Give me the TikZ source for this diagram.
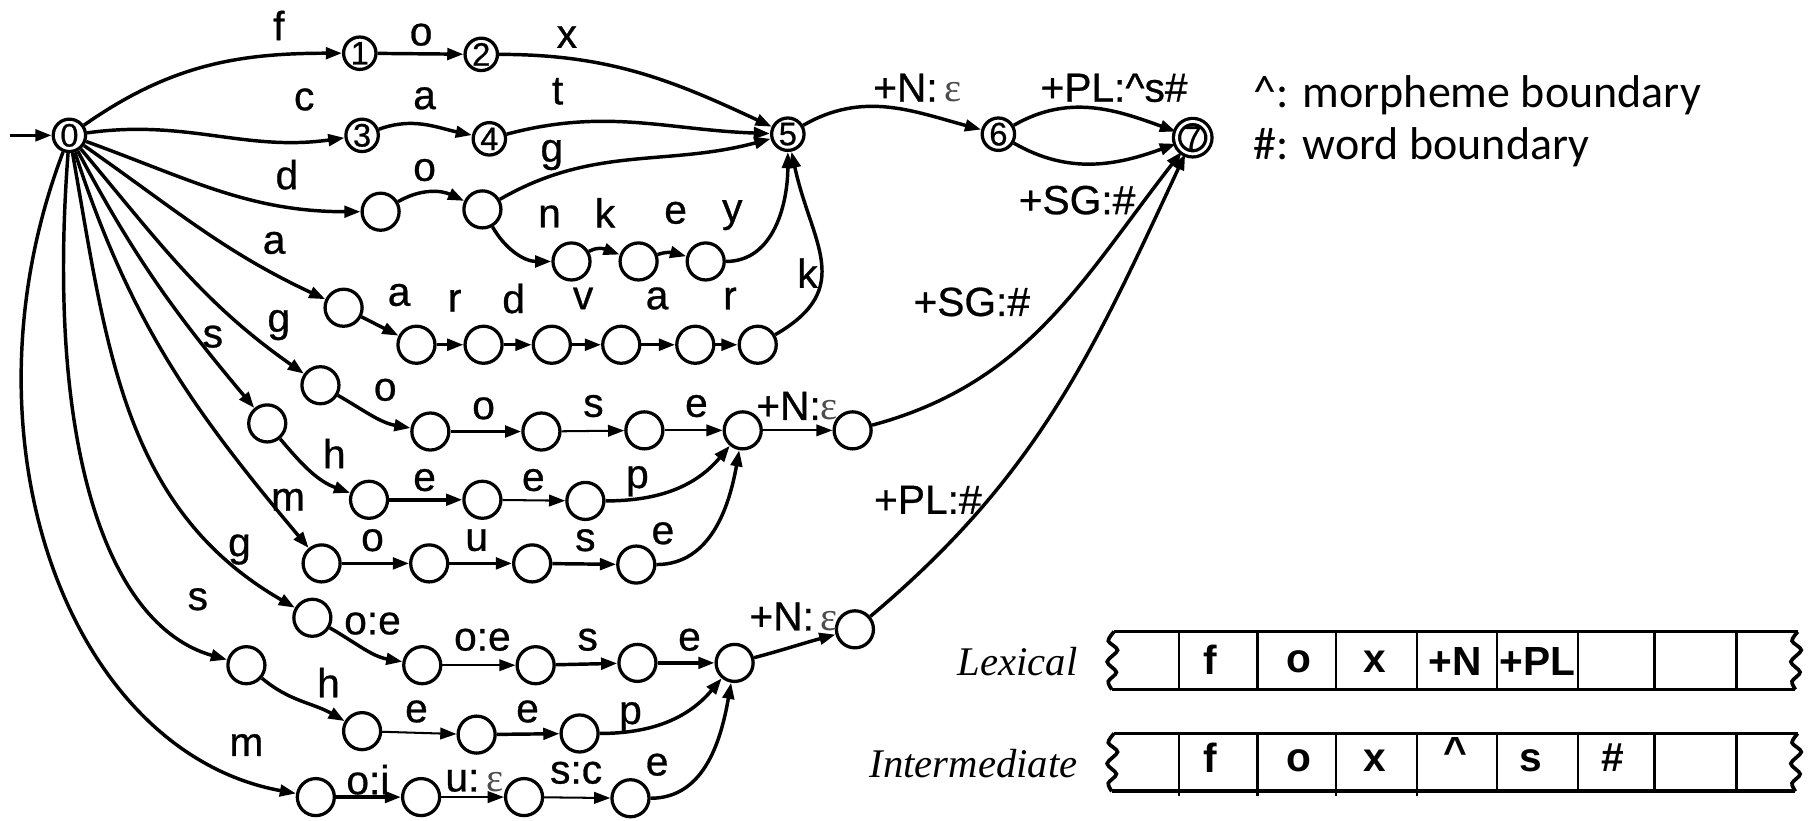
\documentclass[tikz,border=0pt]{standalone}
\usepackage{fontspec}
\setmainfont{Liberation Sans}
\newfontfamily\lblfont[FakeBold=0.7]{Liberation Sans}
\newfontfamily\serifit{Liberation Serif}
\newfontfamily\legendfont{Carlito}
\usetikzlibrary{arrows.meta}
\newcommand{\myeps}{{\serifit\color{black!70}ε}}
\begin{document}
\begin{tikzpicture}[x=0.01cm,y=0.01cm,
  st/.style={circle,draw,line width=0.8pt,minimum size=0.32cm,inner sep=0pt},
  nst/.style={st,minimum size=0.28cm,font=\lblfont\fontsize{8}{8}\selectfont},
  tr/.style={line width=0.85pt,-{Triangle[length=1.4mm,width=1.0mm]}},
  thin tr/.style={tr,line width=0.5pt},
  lb/.style={font=\lblfont\fontsize{10}{10}\selectfont,inner sep=0pt},
  tape/.style={line width=0.9pt},
  cellt/.style={font=\fontsize{10}{10}\selectfont\bfseries,inner sep=0pt},
  tapename/.style={font=\serifit\itshape\fontsize{10}{10}\selectfont,anchor=east,inner sep=0pt},
  legend/.style={font=\legendfont\fontsize{11.3}{11.3}\selectfont,anchor=west,inner sep=0pt}
]
\useasboundingbox (0,0) rectangle (1568,-709);
% numbered states
\node[nst] (N0) at (60,-117) {0};
\node[nst] (N1) at (311,-46) {1};
\node[nst] (N2) at (416,-47) {2};
\node[nst] (N3) at (313,-117) {3};
\node[nst] (N4) at (423,-120) {4};
\node[nst] (N5) at (681,-116) {5};
\node[nst] (N6) at (863,-116) {6};
\node[nst,double,double distance=0.7pt] (N7) at (1031,-119) {7};
% dog / donkey
\node[st] (D1) at (329,-183) {};
\node[st] (D2) at (417,-181) {};
\node[st] (K1) at (494,-226) {};
\node[st] (K2) at (552,-226) {};
\node[st] (K3) at (610,-226) {};
% aardvark
\node[st] (A0) at (297,-266) {};
\node[st] (A1) at (360,-298) {};
\node[st] (A2) at (418,-298) {};
\node[st] (A3) at (477,-298) {};
\node[st] (A4) at (537,-298) {};
\node[st] (A5) at (601,-298) {};
\node[st] (A6) at (655,-298) {};
% goose
\node[st] (G0) at (277,-333) {};
\node[st] (G1) at (372,-373) {};
\node[st] (G2) at (468,-373) {};
\node[st] (G3) at (557,-372) {};
\node[st] (M1) at (642,-372) {};
\node[st] (P1) at (737,-372) {};
% sheep
\node[st] (S0) at (231,-366) {};
\node[st] (S1) at (319,-432) {};
\node[st] (S2) at (417,-432) {};
\node[st] (S3) at (506,-433) {};
% mouse
\node[st] (U0) at (278,-487) {};
\node[st] (U1) at (371,-487) {};
\node[st] (U2) at (460,-487) {};
\node[st] (U3) at (550,-488) {};
% geese
\node[st] (E0) at (270,-534) {};
\node[st] (E1) at (365,-575) {};
\node[st] (E2) at (463,-575) {};
\node[st] (E3) at (551,-573) {};
\node[st] (M2) at (635,-573) {};
\node[st] (P2) at (739,-544) {};
% sheep (2)
\node[st] (T0) at (213,-575) {};
\node[st] (T1) at (313,-632) {};
\node[st] (T2) at (412,-635) {};
\node[st] (T3) at (501,-634) {};
% mice
\node[st] (I0) at (273,-689) {};
\node[st] (I1) at (364,-689) {};
\node[st] (I2) at (453,-689) {};
\node[st] (I3) at (545,-690) {};

\coordinate (start) at (9,-117);
\draw[tr] (start) -- (N0);

% fox / cat / dog / donkey
\draw[tr] (N0) to[out=35,in=180] (N1);
\draw[tr] (N1) -- (N2);
\draw[tr] (N2) to[out=0,in=155] (N5);
\draw[tr] (N0) to[out=8,in=188] (N3);
\draw[tr] (N3) to[out=20,in=168] (N4);
\draw[tr] (N4) to[out=15,in=178] (N5);
\draw[tr] (N0) to[out=-20,in=180] (D1);
\draw[tr] (D1) to[out=30,in=155] (D2);
\draw[tr] (D2) to[out=30,in=195] (N5);
\draw[tr] (D2) to[out=-60,in=180] (K1);
\draw[tr] (K1) to[out=30,in=160] (K2);
\draw[tr] (K2) to[out=20,in=165] (K3);
\draw[tr] (K3) to[out=0,in=-90] (N5);
% aardvark
\draw[tr] (N0) to[out=-35,in=155] (A0);
\draw[tr] (A0) -- (A1);
\draw[tr] (A1) -- (A2);
\draw[tr] (A2) -- (A3);
\draw[tr] (A3) -- (A4);
\draw[tr] (A4) -- (A5);
\draw[tr] (A5) -- (A6);
\draw[tr] (A6) to[out=30,in=-78,looseness=1.3] (N5);
% goose
\draw[tr] (N0) to[out=-50,in=145] (G0);
\draw[tr] (G0) to[out=-30,in=170] (G1);
\draw[tr] (G1) -- (G2);
\draw[thin tr] (G2) -- (G3);
\draw[thin tr] (G3) -- (M1);
\draw[thin tr] (M1) -- (P1);
\draw[tr] (P1) to[out=15,in=-128] (N7);
% sheep
\draw[tr] (N0) to[out=-62,in=130] (S0);
\draw[tr] (S0) to[out=-50,in=160] (S1);
\draw[tr] (S1) -- (S2);
\draw[thin tr] (S2) -- (S3);
\draw[tr] (S3) to[out=0,in=-130] (M1);
% mouse
\draw[tr] (N0) to[out=-72,in=130] (U0);
\draw[tr] (U0) -- (U1);
\draw[tr] (U1) -- (U2);
\draw[tr] (U2) -- (U3);
\draw[tr] (U3) to[out=0,in=-100] (M1);
% geese
\draw[tr] (N0) to[out=-80,in=150] (E0);
\draw[tr] (E0) to[out=-30,in=170] (E1);
\draw[thin tr] (E1) -- (E2);
\draw[tr] (E2) -- (E3);
\draw[tr] (E3) -- (M2);
\draw[tr] (M2) to[out=15,in=195] (P2);
\draw[tr] (P2) to[out=40,in=-115] (N7);
% sheep (2)
\draw[tr] (N0) .. controls (40,-380) and (90,-540) .. (T0);
\draw[tr] (T0) to[out=-40,in=150] (T1);
\draw[thin tr] (T1) -- (T2);
\draw[tr] (T2) -- (T3);
\draw[tr] (T3) to[out=0,in=-130] (M2);
% mice
\draw[tr] (N0) .. controls (-40,-380) and (60,-650) .. (I0);
\draw[tr] (I0) -- (I1);
\draw[thin tr] (I1) -- (I2);
\draw[thin tr] (I2) -- (I3);
\draw[tr] (I3) to[out=0,in=-100] (M2);
% suffix part
\draw[tr] (N5) to[out=30,in=165] (N6);
\draw[tr] (N6) to[out=30,in=160] (N7);
\draw[tr] (N6) to[out=-30,in=200] (N7);

% labels
\node[lb] (l01) at (241,-22) {f};
\node[lb] (l12) at (364,-30) {o};
\node[lb] (l25) at (490,-32) {x};
\node[lb] (l03) at (263,-86) {c};
\node[lb] (l34) at (367,-85) {a};
\node[lb] (l45) at (482,-79) {t};
\node[lb] (l0d) at (248,-151) {d};
\node[lb] (ldd) at (367,-147) {o};
\node[lb] (ld5) at (477,-134) {g};
\node[lb] (lk1) at (475,-187) {n};
\node[lb] (lk2) at (523,-184) {k};
\node[lb] (lk3) at (584,-184) {e};
\node[lb] (lk4) at (633,-186) {y};
\node[lb] (la0) at (237,-210) {a};
\node[lb] (la1) at (345,-255) {a};
\node[lb] (la2) at (393,-260) {r};
\node[lb] (la3) at (444,-258) {d};
\node[lb] (la4) at (504,-258) {v};
\node[lb] (la5) at (568,-258) {a};
\node[lb] (la6) at (631,-258) {r};
\node[lb] (la7) at (698,-236) {k};
\node[lb] (lg0) at (241,-281) {g};
\node[lb] (lg1) at (333,-337) {o};
\node[lb] (lg2) at (418,-353) {o};
\node[lb] (lg3) at (513,-351) {s};
\node[lb] (lg4) at (602,-351) {e};
\node[lb] (lg5) at (689,-351) {+N:\myeps};
\node[lb] (l56) at (793,-76) {+N:\,\myeps};
\node[lb] (l67) at (963,-76) {+PL:\textasciicircum s\#};
\node[lb] (l67b) at (931,-173) {+SG:\#};
\node[lb] (lp1) at (840,-261) {+SG:\#};
\node[lb] (lp2) at (802,-432) {+PL:\#};
\node[lb] (ls0) at (184,-291) {s};
\node[lb] (ls1) at (289,-392) {h};
\node[lb] (ls2) at (367,-415) {e};
\node[lb] (ls3) at (461,-415) {e};
\node[lb] (ls4) at (551,-416) {p};
\node[lb] (lu0) at (249,-432) {m};
\node[lb] (lu1) at (322,-467) {o};
\node[lb] (lu2) at (412,-467) {u};
\node[lb] (lu3) at (506,-467) {s};
\node[lb] (lu4) at (573,-461) {e};
\node[lb] (le0) at (207,-475) {g};
\node[lb] (le1) at (322,-539) {o:e};
\node[lb] (le2) at (417,-553) {o:e};
\node[lb] (le3) at (508,-553) {s};
\node[lb] (le4) at (596,-553) {e};
\node[lb] (le5) at (686,-533) {+N:\,\myeps};
\node[lb] (lt0) at (171,-518) {s};
\node[lb] (lt1) at (284,-590) {h};
\node[lb] (lt2) at (360,-615) {e};
\node[lb] (lt3) at (456,-615) {e};
\node[lb] (lt4) at (545,-620) {p};
\node[lb] (li0) at (213,-644) {m};
\node[lb] (li1) at (318,-674) {o:i};
\node[lb] (li2) at (410,-675) {u:\,\myeps};
\node[lb] (li3) at (498,-668) {s:c};
\node[lb] (li4) at (568,-661) {e};

% legend
\node[legend] (leg1) at (1083,-82) {\textasciicircum: morpheme boundary};
\node[legend] (leg2) at (1083,-127) {\#: word boundary};

% tapes
\node[tapename] (lexname) at (932,-572) {Lexical};
\node[tapename] (intname) at (932,-660) {Intermediate};
\foreach \ty in {546,634} {
  \draw[tape] (963,-\ty) -- (1554,-\ty);
  \draw[tape] (961,-\ty-50) -- (1552,-\ty-50);
  \draw[tape] plot[smooth] coordinates {(963,-\ty) (958,-\ty-8) (966,-\ty-16) (957,-\ty-26) (965,-\ty-35) (958,-\ty-43) (961,-\ty-50)};
  \draw[tape] plot[smooth] coordinates {(1554,-\ty) (1549,-\ty-8) (1557,-\ty-16) (1548,-\ty-26) (1556,-\ty-35) (1549,-\ty-43) (1552,-\ty-50)};
  \foreach \cx in {1019,1087,1155,1225,1294,1364,1430,1501} {
    \draw[line width=0.6pt] (\cx,-\ty) -- (\cx,-\ty-50);
  }
}
\foreach \cx in {1019,1087,1155,1225} {
  \draw[line width=0.6pt] (\cx,-684) -- (\cx,-688);
}
\node[cellt] (c1) at (1046,-570) {f};
\node[cellt] (c2) at (1123,-572) {o};
\node[cellt] (c3) at (1188,-572) {x};
\node[cellt] (c4) at (1258,-572) {+N};
\node[cellt] (c5) at (1329,-572) {+PL};
\node[cellt] (d1) at (1046,-655) {f};
\node[cellt] (d2) at (1123,-658) {o};
\node[cellt] (d3) at (1188,-658) {x};
\node[cellt] (d4) at (1258,-650) {\textasciicircum};
\node[cellt] (d5) at (1323,-658) {s};
\node[cellt] (d6) at (1394,-655) {\#};
\end{tikzpicture}
\end{document}
